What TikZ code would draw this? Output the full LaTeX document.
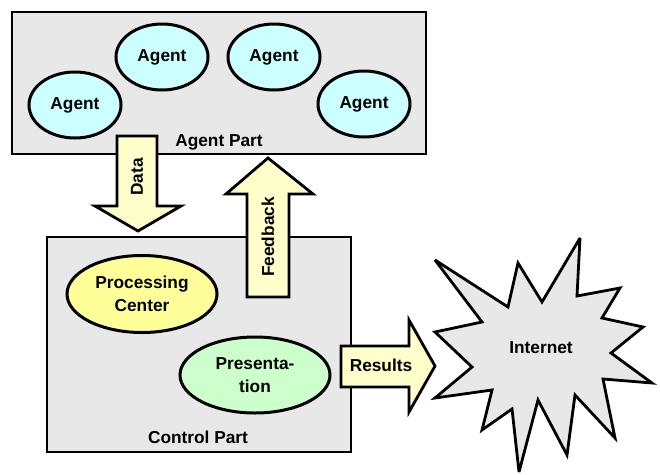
\documentclass[tikz,border=0pt]{standalone}
\usepackage{fontspec}
\setmainfont{Liberation Sans}
\usetikzlibrary{shapes.geometric}
\definecolor{boxgray}{HTML}{E8E8E8}
\definecolor{agentcyan}{HTML}{CCFFFF}
\definecolor{arrowyellow}{HTML}{FFFFCC}
\definecolor{procyellow}{HTML}{FFFF99}
\definecolor{presgreen}{HTML}{CCFFCC}
\begin{document}
\begin{tikzpicture}[x=1pt,y=-1pt,
  lbl/.style={font=\fontsize{17.3}{23}\selectfont\bfseries, align=center, inner sep=0pt},
  partbox/.style={draw=black, line width=2pt, fill=boxgray},
  agentnode/.style={ellipse, draw=black, line width=3pt, fill=agentcyan, minimum width=92pt, minimum height=66pt, inner sep=0pt, lbl},
  blockarrow/.style={draw=black, line width=2.8pt, fill=arrowyellow, line join=miter},
  bigell/.style={ellipse, draw=black, line width=3pt, minimum width=150pt, minimum height=77pt, inner sep=0pt, lbl}
]
\useasboundingbox (0,0) rectangle (660,474);
% Agent part
\draw[partbox] (12,12) rectangle (426,154);
\node[agentnode] (a1) at (75,105) {Agent};
\node[agentnode] (a2) at (162,57) {Agent};
\node[agentnode] (a3) at (274,57) {Agent};
\node[agentnode] (a4) at (364,104) {Agent};
\node[lbl] (ap) at (219,142) {Agent Part};
% Data arrow
\draw[blockarrow] (117,136) -- (157,136) -- (157,206) -- (181,206) -- (138,231) -- (95,206) -- (117,206) -- cycle;
\node[lbl, rotate=90] (data) at (137,177) {Data};
% Control part
\draw[partbox] (47,237) rectangle (351,452);
\node[bigell, fill=procyellow] (pc) at (142,294) {Processing\\Center};
\node[bigell, fill=presgreen, minimum height=76pt] (pr) at (255,375) {Presenta-\\tion};
\node[lbl] (cp) at (198,437) {Control Part};
% Feedback arrow
\draw[blockarrow] (247,297) -- (289,297) -- (289,194) -- (313,194) -- (268,158) -- (226,194) -- (247,194) -- cycle;
\node[lbl, rotate=90] (fb) at (268,237) {Feedback};
% Results arrow
\draw[blockarrow] (341,346) -- (409,346) -- (409,320) -- (435,366) -- (409,412) -- (409,387) -- (341,387) -- cycle;
\node[lbl] (res) at (381,365) {Results};
% Internet star
\draw[line width=2.8pt, fill=boxgray, line join=miter, miter limit=4]
  (435,260) -- (508,307) -- (518,263) -- (542,302) -- (580,238) -- (577,296) -- (620,288) -- (602,318) -- (643,327) -- (611,353) -- (652,383) -- (603,379) -- (615,438) -- (575,395) -- (567,455) -- (538,400) -- (519,472) -- (512,409) -- (482,430) -- (492,390) -- (435,398) -- (472,367) -- (435,332) -- (482,322) -- cycle;
\node[lbl] (net) at (541,348) {Internet};
\end{tikzpicture}
\end{document}
